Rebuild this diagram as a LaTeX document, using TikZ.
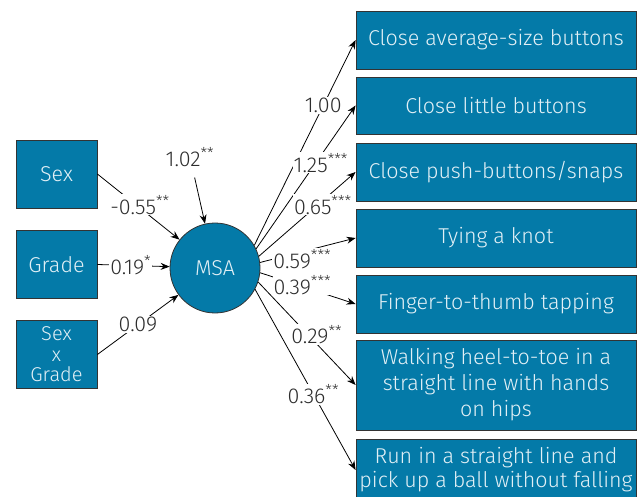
\documentclass[tikz,border=0pt]{standalone}
\usepackage{fontspec}
\setmainfont{Fira Sans}[UprightFont=* Light]
\usetikzlibrary{arrows.meta}
\definecolor{boxblue}{RGB}{4,122,168}
\definecolor{boxtext}{RGB}{226,240,246}
\definecolor{labgray}{RGB}{45,45,45}
\tikzset{
  var/.style={draw=black!80, fill=boxblue, text=boxtext, align=center, line width=0.8pt},
  item/.style={var, minimum width=280pt, minimum height=58pt, inner sep=2pt},
  cause/.style={var, minimum width=81pt, minimum height=68pt, inner sep=1pt},
  latent/.style={var, circle, minimum size=90pt},
  lab/.style={fill=white, text=labgray, inner sep=1pt}
}

\begin{document}
\begin{tikzpicture}[x=1pt,y=-1pt,->,>={Stealth[length=9pt,width=7pt]},
                    line width=0.8pt,font=\fontsize{21.5}{26}\selectfont]
  \useasboundingbox (0,0) rectangle (637,497);

  \node[latent] (MSA)                at (215,268)   {MSA};
  \node[cause]  (sex)                at (56.5,174)  {Sex};
  \node[cause]  (grade)              at (56.5,264.5) {Grade};
  \node[cause,font=\fontsize{20}{20.5}\selectfont]
                (sexgrade)           at (56.5,354.5) {Sex\\x\\Grade};

  \node[item]   (b1)                 at (496,40)    {Close average-size buttons};
  \node[item,minimum height=57pt] (b2) at (496,105.5) {Close little buttons};
  \node[item]   (b3)                 at (496,172)   {Close push-buttons/snaps};
  \node[item]   (b4)                 at (496,238)   {Tying a knot};
  \node[item]   (b5)                 at (496,304)   {Finger-to-thumb tapping};
  \node[item,minimum height=90pt] (b6) at (496,385) {Walking heel-to-toe in a\\straight line with hands\\on hips};
  \node[item,minimum height=62pt,font=\fontsize{21.5}{24}\selectfont]
                (b7)                 at (496,470)   {Run in a straight line and\\pick up a ball without falling};

  \node[lab]    (err)                at (190,157)   {1.02\textsuperscript{**}};

  \path (sex.east)      edge node[lab,pos=.47,xshift=4pt] {-0.55\textsuperscript{**}} (MSA)
        (grade.east)    edge node[lab,pos=.42,xshift=3pt] {0.19\textsuperscript{*}} (MSA)
        (sexgrade.east) edge node[lab,pos=.50] {0.09} (MSA)
        (err)           edge[shorten <=10pt] (MSA);

  % loadings, leaving the right side of MSA
  \path (MSA.30)  edge node[lab,pos=.68] {1.00} (b1.west)
        (MSA.25)  edge node[lab,pos=.60,xshift=5pt] {1.25\textsuperscript{***}} (b2.west)
        (MSA.15)  edge node[lab,pos=.61,xshift=5pt] {0.65\textsuperscript{***}} (b3.west)
        (MSA.7)   edge node[lab,pos=.39,xshift=5pt,yshift=-6pt] {0.59\textsuperscript{***}} (b4.west)
        (MSA.-6)  edge node[lab,pos=.39,xshift=5pt] {0.39\textsuperscript{***}} (b5.west)
        (MSA.-18) edge node[lab,pos=.56,xshift=4pt,yshift=5pt] {0.29\textsuperscript{**}} (b6.west)
        (MSA.-28) edge node[lab,pos=.58] {0.36\textsuperscript{**}} (b7.west);
\end{tikzpicture}
\end{document}
